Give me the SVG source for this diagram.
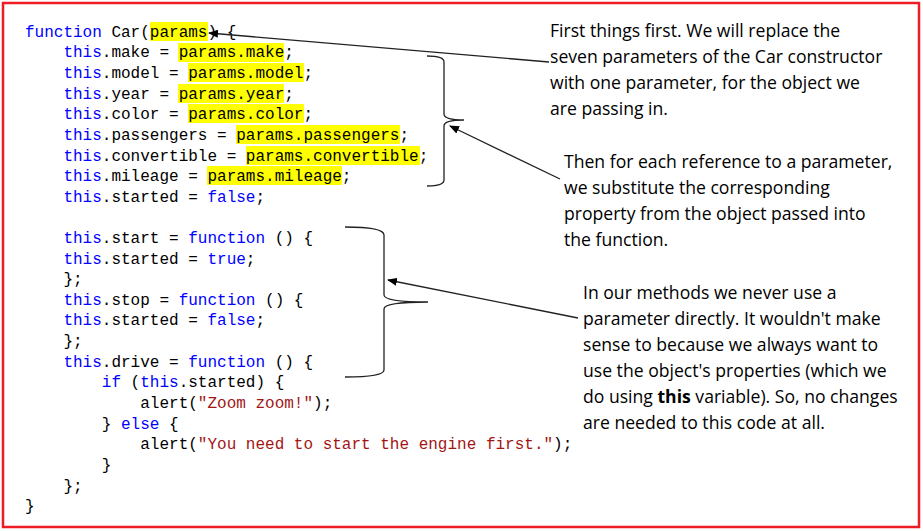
<svg xmlns="http://www.w3.org/2000/svg" width="923" height="531" viewBox="0 0 923 531">
<style>
.c{font-family:"Liberation Mono",monospace;font-size:16px;fill:#000;white-space:pre}
.k{fill:#0000ff}.s{fill:#a31515}
.t{font-family:"Open Sans","Liberation Sans",sans-serif;font-size:17.6px;fill:#000}
.hl{fill:#ffff00}
.ln{stroke:#222;stroke-width:1.3;fill:none}
</style>
<defs><marker id="a" markerWidth="10" markerHeight="8" refX="9" refY="4" orient="auto" markerUnits="userSpaceOnUse"><path d="M0,0L10,4L0,8z" fill="#000"/></marker></defs>
<rect x="0" y="0" width="923" height="531" fill="#fff"/>
<rect x="3" y="3" width="916" height="524" fill="none" stroke="#ee1c24" stroke-width="2.5"/>
<g id="code">
<rect class="hl" x="150" y="22" width="58" height="19"/>
<rect class="hl" x="178" y="43" width="106" height="19"/>
<rect class="hl" x="188" y="63" width="116" height="19"/>
<rect class="hl" x="178" y="84" width="106" height="19"/>
<rect class="hl" x="188" y="104" width="116" height="19"/>
<rect class="hl" x="236" y="125" width="164" height="19"/>
<rect class="hl" x="246" y="146" width="174" height="19"/>
<rect class="hl" x="207" y="166" width="135" height="19"/>
<text class="c" x="25" y="37"><tspan class="k">function</tspan> Car(params) {</text>
<text class="c" x="25" y="57">    <tspan class="k">this</tspan>.make = params.make;</text>
<text class="c" x="25" y="78">    <tspan class="k">this</tspan>.model = params.model;</text>
<text class="c" x="25" y="99">    <tspan class="k">this</tspan>.year = params.year;</text>
<text class="c" x="25" y="119">    <tspan class="k">this</tspan>.color = params.color;</text>
<text class="c" x="25" y="140">    <tspan class="k">this</tspan>.passengers = params.passengers;</text>
<text class="c" x="25" y="161">    <tspan class="k">this</tspan>.convertible = params.convertible;</text>
<text class="c" x="25" y="181">    <tspan class="k">this</tspan>.mileage = params.mileage;</text>
<text class="c" x="25" y="202">    <tspan class="k">this</tspan>.started = <tspan class="k">false</tspan>;</text>
<text class="c" x="25" y="243">    <tspan class="k">this</tspan>.start = <tspan class="k">function</tspan> () {</text>
<text class="c" x="25" y="264">    <tspan class="k">this</tspan>.started = <tspan class="k">true</tspan>;</text>
<text class="c" x="25" y="284">    };</text>
<text class="c" x="25" y="305">    <tspan class="k">this</tspan>.stop = <tspan class="k">function</tspan> () {</text>
<text class="c" x="25" y="325">    <tspan class="k">this</tspan>.started = <tspan class="k">false</tspan>;</text>
<text class="c" x="25" y="346">    };</text>
<text class="c" x="25" y="367">    <tspan class="k">this</tspan>.drive = <tspan class="k">function</tspan> () {</text>
<text class="c" x="25" y="387">        <tspan class="k">if</tspan> (<tspan class="k">this</tspan>.started) {</text>
<text class="c" x="25" y="408">            alert(<tspan class="s">"Zoom zoom!"</tspan>);</text>
<text class="c" x="25" y="429">        } <tspan class="k">else</tspan> {</text>
<text class="c" x="25" y="449">            alert(<tspan class="s">"You need to start the engine first."</tspan>);</text>
<text class="c" x="25" y="470">        }</text>
<text class="c" x="25" y="491">    };</text>
<text class="c" x="25" y="511">}</text>
</g>
<g id="notes">
<text class="t" x="550" y="37">First things first. We will replace the</text>
<text class="t" x="550" y="63">seven parameters of the Car constructor</text>
<text class="t" x="550" y="89">with one parameter, for the object we</text>
<text class="t" x="550" y="115">are passing in.</text>
<text class="t" x="564" y="168">Then for each reference to a parameter,</text>
<text class="t" x="564" y="194">we substitute the corresponding</text>
<text class="t" x="564" y="220">property from the object passed into</text>
<text class="t" x="564" y="246">the function.</text>
<text class="t" x="583" y="299">In our methods we never use a</text>
<text class="t" x="583" y="325">parameter directly. It wouldn't make</text>
<text class="t" x="583" y="351">sense to because we always want to</text>
<text class="t" x="583" y="377">use the object's properties (which we</text>
<text class="t" x="583" y="403">do using <tspan font-weight="bold">this</tspan> variable). So, no changes</text>
<text class="t" x="583" y="429">are needed to this code at all.</text>
</g>
<g id="connectors">
<path class="ln" d="M427,56 Q444,56 444,62 L444,114 Q444,120 464,120 Q444,120 444,126 L444,180 Q444,186 427,186"/>
<path class="ln" d="M345,227 Q384,227 384,235 L384,295 Q384,302 428,302 Q384,302 384,309 L384,370 Q384,377 345,377"/>
<line class="ln" x1="549" y1="62" x2="209" y2="33" marker-end="url(#a)"/>
<line class="ln" x1="560" y1="179" x2="450" y2="126" marker-end="url(#a)"/>
<line class="ln" x1="578" y1="318" x2="388" y2="280" marker-end="url(#a)"/>
</g>
</svg>
